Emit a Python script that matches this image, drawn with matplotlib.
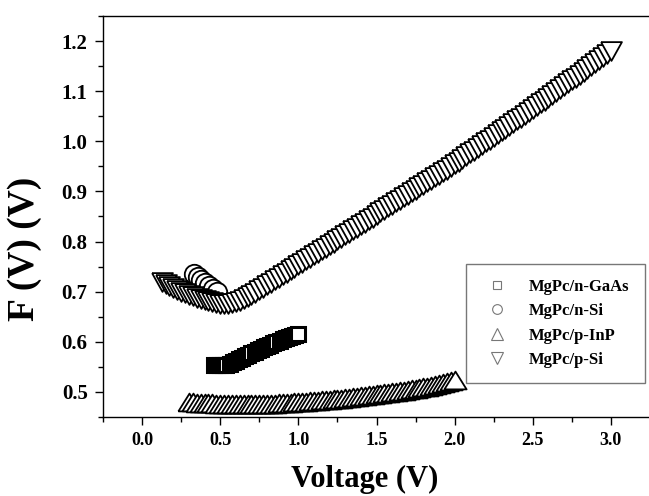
import matplotlib
matplotlib.use('Agg')
import matplotlib.pyplot as plt
from matplotlib.ticker import MultipleLocator
from matplotlib.lines import Line2D

# MgPc/n-GaAs (squares)
v_gaas = [0.46, 0.48, 0.50, 0.52, 0.54, 0.56, 0.58, 0.60, 0.62, 0.64, 0.66, 0.68, 0.70, 0.72,
          0.74, 0.76, 0.78, 0.80, 0.82, 0.84, 0.86, 0.88, 0.90, 0.92, 0.94, 0.96, 0.98, 1.00]
f_gaas = [0.554, 0.553, 0.553, 0.553, 0.554, 0.556, 0.559, 0.562, 0.565, 0.568, 0.571, 0.574, 0.577, 0.580,
          0.583, 0.586, 0.589, 0.592, 0.594, 0.597, 0.600, 0.602, 0.605, 0.607, 0.610, 0.612, 0.614, 0.616]

# MgPc/n-Si (circles)
v_nsi = [0.330, 0.355, 0.380, 0.405, 0.430, 0.455, 0.480]
f_nsi = [0.735, 0.730, 0.724, 0.718, 0.712, 0.706, 0.700]

# MgPc/p-InP (up triangles)
v_inp = [0.300, 0.325, 0.350, 0.375, 0.400, 0.425, 0.450, 0.475, 0.500, 0.525, 0.550, 0.575, 0.600, 0.625,
         0.650, 0.675, 0.700, 0.725, 0.750, 0.775, 0.800, 0.825, 0.850, 0.875, 0.900, 0.925, 0.950, 0.975,
         1.000, 1.025, 1.050, 1.075, 1.100, 1.125, 1.150, 1.175, 1.200, 1.225, 1.250, 1.275, 1.300, 1.325,
         1.350, 1.375, 1.400, 1.425, 1.450, 1.475, 1.500, 1.525, 1.550, 1.575, 1.600, 1.625, 1.650, 1.675,
         1.700, 1.725, 1.750, 1.775, 1.800, 1.825, 1.850, 1.875, 1.900, 1.925, 1.950, 1.975, 2.000]
f_inp = [0.479, 0.479, 0.478, 0.478, 0.477, 0.477, 0.477, 0.476, 0.476, 0.476, 0.475, 0.475, 0.475, 0.475,
         0.475, 0.475, 0.475, 0.475, 0.475, 0.476, 0.476, 0.476, 0.476, 0.477, 0.477, 0.478, 0.478, 0.479,
         0.479, 0.480, 0.480, 0.481, 0.481, 0.482, 0.483, 0.483, 0.484, 0.485, 0.486, 0.486, 0.487, 0.488,
         0.489, 0.490, 0.491, 0.492, 0.493, 0.494, 0.495, 0.496, 0.497, 0.498, 0.499, 0.500, 0.501, 0.502,
         0.503, 0.505, 0.506, 0.507, 0.509, 0.510, 0.512, 0.513, 0.515, 0.517, 0.519, 0.521, 0.523]

# MgPc/p-Si (down triangles)
v_psi = [0.125, 0.150, 0.175, 0.200, 0.225, 0.250, 0.275, 0.300, 0.325, 0.350, 0.375, 0.400, 0.425, 0.450,
         0.475, 0.500, 0.525, 0.550, 0.575, 0.600, 0.625, 0.650, 0.675, 0.700, 0.725, 0.750, 0.775, 0.800,
         0.825, 0.850, 0.875, 0.900, 0.925, 0.950, 0.975, 1.000, 1.025, 1.050, 1.075, 1.100, 1.125, 1.150,
         1.175, 1.200, 1.225, 1.250, 1.275, 1.300, 1.325, 1.350, 1.375, 1.400, 1.425, 1.450, 1.475, 1.500,
         1.525, 1.550, 1.575, 1.600, 1.625, 1.650, 1.675, 1.700, 1.725, 1.750, 1.775, 1.800, 1.825, 1.850,
         1.875, 1.900, 1.925, 1.950, 1.975, 2.000, 2.025, 2.050, 2.075, 2.100, 2.125, 2.150, 2.175, 2.200,
         2.225, 2.250, 2.275, 2.300, 2.325, 2.350, 2.375, 2.400, 2.425, 2.450, 2.475, 2.500, 2.525, 2.550,
         2.575, 2.600, 2.625, 2.650, 2.675, 2.700, 2.725, 2.750, 2.775, 2.800, 2.825, 2.850, 2.875, 2.900,
         2.925, 2.950, 2.975, 3.000]
f_psi = [0.720, 0.716, 0.712, 0.708, 0.704, 0.700, 0.697, 0.694, 0.691, 0.688, 0.685, 0.683, 0.681, 0.679,
         0.677, 0.676, 0.676, 0.676, 0.677, 0.679, 0.682, 0.685, 0.689, 0.693, 0.698, 0.703, 0.708, 0.713,
         0.718, 0.723, 0.728, 0.733, 0.738, 0.743, 0.748, 0.753, 0.758, 0.763, 0.768, 0.773, 0.778, 0.783,
         0.788, 0.793, 0.798, 0.803, 0.808, 0.813, 0.818, 0.823, 0.828, 0.833, 0.838, 0.843, 0.848, 0.853,
         0.858, 0.863, 0.868, 0.873, 0.878, 0.883, 0.888, 0.893, 0.898, 0.903, 0.908, 0.913, 0.918, 0.923,
         0.928, 0.933, 0.938, 0.943, 0.948, 0.954, 0.959, 0.965, 0.970, 0.976, 0.981, 0.987, 0.992, 0.998,
         1.003, 1.009, 1.014, 1.020, 1.025, 1.031, 1.036, 1.042, 1.047, 1.053, 1.058, 1.064, 1.070, 1.076,
         1.081, 1.087, 1.093, 1.099, 1.104, 1.110, 1.116, 1.122, 1.127, 1.133, 1.139, 1.145, 1.150, 1.156,
         1.162, 1.168, 1.174, 1.180]

labels = ['MgPc/n-GaAs', 'MgPc/n-Si', 'MgPc/p-InP', 'MgPc/p-Si']

# triangles a little wider than tall, like the original symbols
tri_up = [(-1.0, -0.8), (1.0, -0.8), (0.0, 0.8), (-1.0, -0.8)]
tri_dn = [(-1.0, 0.9), (1.0, 0.9), (0.0, -0.9), (-1.0, 0.9)]

plt.rcParams['font.family'] = ['Liberation Serif', 'DejaVu Serif']
plt.rcParams['font.weight'] = 'bold'

fig = plt.figure(figsize=(6.49, 4.96), dpi=100)
ax = fig.add_axes([103 / 649, 79 / 496, 547 / 649, 401 / 496])

mk = dict(linestyle='none', markerfacecolor='white', markeredgecolor='black', markeredgewidth=1.3)
ax.plot(v_gaas, f_gaas, marker='s', markersize=10, **dict(mk, markeredgewidth=2.2))
ax.plot(v_nsi, f_nsi, marker='o', markersize=14, **mk)
ax.plot(v_inp, f_inp, marker=tri_up, markersize=16, **mk)
ax.plot(v_psi, f_psi, marker=tri_dn, markersize=15, **mk)

ax.set_xlim(-0.25, 3.25)
ax.set_ylim(0.45, 1.25)
ax.xaxis.set_major_locator(MultipleLocator(0.5))
ax.xaxis.set_minor_locator(MultipleLocator(0.25))
ax.yaxis.set_major_locator(MultipleLocator(0.1))
ax.yaxis.set_minor_locator(MultipleLocator(0.05))
ax.xaxis.set_major_formatter(plt.FormatStrFormatter('%.1f'))
ax.yaxis.set_major_formatter(plt.FormatStrFormatter('%.1f'))
ax.tick_params(which='major', direction='out', length=6, width=1, pad=5, labelsize=13)
ax.tick_params(which='minor', direction='out', length=3.5, width=1)
ax.tick_params(axis='y', labelsize=15)
ax.spines['right'].set_visible(False)
for s in ('left', 'bottom', 'top'):
    ax.spines[s].set_linewidth(1.0)

ax.set_xlabel('Voltage (V)', fontsize=22, fontweight='bold')
ax.set_ylabel('F (V) (V)', fontsize=27, fontweight='bold')
ax.xaxis.set_label_coords(0.479, -0.12)
ax.yaxis.set_label_coords(-0.112, 0.42)

handles = [
    Line2D([], [], linestyle='none', marker='s', markersize=6, markerfacecolor='white', markeredgecolor='#777777', markeredgewidth=0.8),
    Line2D([], [], linestyle='none', marker='o', markersize=7, markerfacecolor='white', markeredgecolor='#777777', markeredgewidth=0.8),
    Line2D([], [], linestyle='none', marker='^', markersize=8, markerfacecolor='white', markeredgecolor='#777777', markeredgewidth=0.8),
    Line2D([], [], linestyle='none', marker='v', markersize=8, markerfacecolor='white', markeredgecolor='#777777', markeredgewidth=0.8),
]
leg = ax.legend(handles, labels, loc='lower right', bbox_to_anchor=(0.99, 0.085),
                fancybox=False, framealpha=1, edgecolor='#777777', fontsize=12,
                handletextpad=0.9, borderpad=0.9, labelspacing=0.5, borderaxespad=0)
leg.get_frame().set_linewidth(1.0)

fig.savefig('out.png', dpi=100)
